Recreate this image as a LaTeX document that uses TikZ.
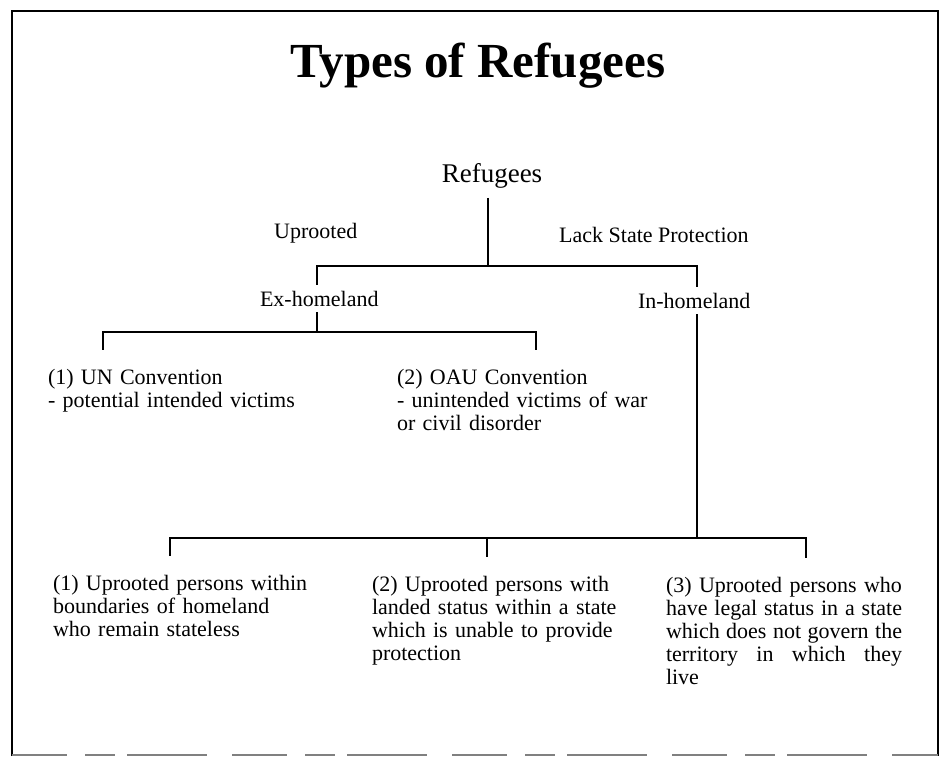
\documentclass[tikz,border=0pt]{standalone}
\usepackage{fontspec}
\setmainfont{Liberation Serif}
\begin{document}
\begin{tikzpicture}[x=1pt,y=-1pt,
every node/.style={
inner sep=0pt,
anchor=base west,
font=\fontsize{22}{23}\selectfont,
},
lbl/.style={
outer sep=6pt,
},
kid/.style={
align=left,
text width=280pt,
outer sep=19pt,
},
line/.style={
line width=2.2pt,
},
frame/.style={
line width=2.8pt,
}]
\useasboundingbox(0,0)rectangle(946,757);

%frame
\draw[frame](12,756)--(12,11)--(938,11)--(938,756);
\draw[frame,line width=2pt,gray,dash pattern=on 55pt off 18pt on 30pt off 12pt on 80pt off 25pt](12,755)--(938,755);

%title and root
\node[anchor=base,font=\fontsize{49}{52}\selectfont\bfseries](title)at(478,78){Types of Refugees};
\node[lbl,anchor=base,outer sep=9pt,font=\fontsize{27}{30}\selectfont](refugees)at(492,183){Refugees};
\node(uprooted)at(274,239){Uprooted};
\node(lack)at(559,243){Lack State Protection};

%first split
\node[lbl](exhome)at(254,306){Ex-homeland};
\node[lbl](inhome)at(632,308){In-homeland};
\coordinate(rbar)at(488,266);
\coordinate(rl)at(317,266);
\coordinate(rr)at(697,266);
\draw[line](refugees.south-|rbar)--(rbar);
\draw[line](exhome.north-|rl)--(rl)--(rr)--(inhome.north-|rr);

%conventions
\node[kid](un)at(29,384){(1) UN Convention\\- potential intended victims};
\node[kid](oau)at(378,384){(2) OAU Convention\\- unintended victims of war\\or civil disorder};
\coordinate(el)at(103,332);
\coordinate(er)at(536,332);
\draw[line](exhome.south-|rl)--(rl|-el);
\draw[line](un.north-|el)--(el)--(er)--(oau.north-|er);

%in-homeland types
\node[kid,text width=270pt](c1)at(34,590){(1) Uprooted persons within\\boundaries of homeland\\who remain stateless};
\node[kid,text width=270pt](c2)at(353,591){(2) Uprooted persons with\\landed status within a state\\which is unable to provide\\protection};
\node[kid,align=justify,text width=236pt](c3)at(647,592){(3) Uprooted persons who\linebreak have legal status in a state\linebreak which does not govern the\linebreak territory in which they\linebreak live};
\coordinate(bl)at(170,538);
\coordinate(bm)at(487,538);
\coordinate(br)at(806,538);
\draw[line](inhome.south-|rr)--(rr|-bl);
\draw[line](c1.north-|bl)--(bl)--(br)--(c3.north-|br);
\draw[line](bm)--(c2.north-|bm);
\end{tikzpicture}
\end{document}
